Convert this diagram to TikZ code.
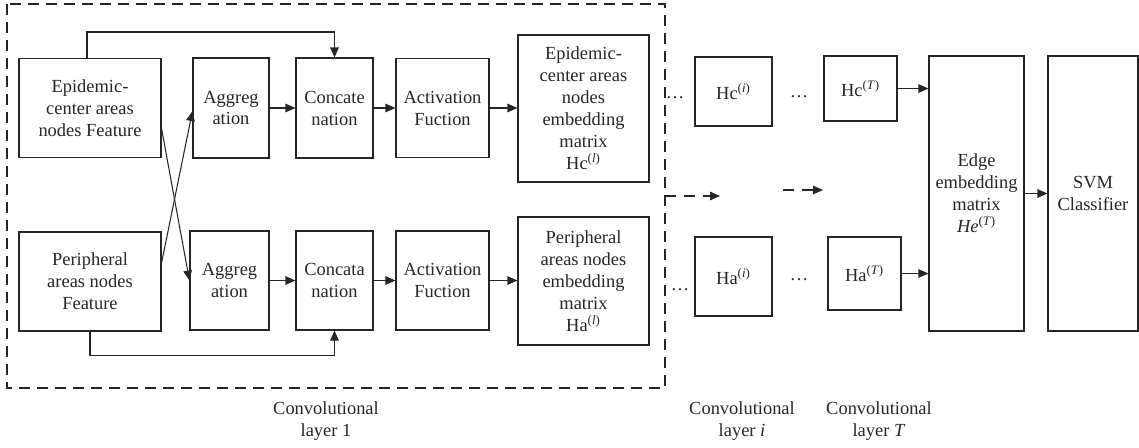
\documentclass[tikz,border=0pt]{standalone}
\usepackage{fontspec}
\setmainfont{Liberation Serif}
\usetikzlibrary{positioning,arrows.meta}
\definecolor{inkc}{RGB}{38,38,38}

\begin{document}
\begin{tikzpicture}[
  box/.style={draw=inkc, line width=0.6pt, align=center, inner sep=1pt, text=inkc, font=\fontsize{10.5}{12.5}\selectfont},
  flow/.style={draw=inkc, line width=0.6pt, -{Triangle[length=2mm,width=1.7mm]}},
  skip/.style={flow, dash pattern=on 2.2mm off 1.6mm},
  dots/.style={font=\fontsize{10.5}{12.5}\selectfont, text=inkc, anchor=base, inner sep=0pt},
  lbl/.style={align=center, font=\fontsize{10.5}{12.5}\selectfont, text=inkc},
]
\useasboundingbox (0,0) rectangle (22.78,-8.94);
\def\ty{-2.16}  % upper row centre
\def\by{-5.61}  % lower row centre

% ---- layer 1 frame ----
\draw[inkc, line width=0.6pt, dash pattern=on 2.2mm off 1.4mm] (0.14,-0.08) rectangle (13.30,-7.76);

% ---- upper row ----
\node[box, minimum width=2.84cm, minimum height=1.98cm] (ecf) at (1.80,\ty) {Epidemic-\\center areas\\nodes Feature};
\node[box, minimum width=1.52cm, minimum height=2.00cm] (agt) at (4.62,\ty) {Aggreg\\ation};
\node[box, minimum width=1.54cm, minimum height=2.00cm] (cct) at (6.69,\ty) {Concate\\nation};
\node[box, minimum width=1.86cm, minimum height=1.98cm] (act) at (8.85,\ty) {Activation\\Fuction};
\node[box, minimum width=2.62cm, minimum height=2.94cm] (eem) at (11.67,-2.17) {Epidemic-\\center areas\\nodes\\embedding\\matrix\\Hc\textsuperscript{(\textit{l})}};

% ---- lower row ----
\node[box, minimum width=2.84cm, minimum height=1.98cm] (paf) at (1.80,-5.63) {Peripheral\\areas nodes\\Feature};
\node[box, minimum width=1.58cm, minimum height=1.98cm] (agb) at (4.59,\by) {Aggreg\\ation};
\node[box, minimum width=1.54cm, minimum height=1.98cm] (ccb) at (6.69,\by) {Concata\\nation};
\node[box, minimum width=1.86cm, minimum height=1.98cm] (acb) at (8.85,\by) {Activation\\Fuction};
\node[box, minimum width=2.62cm, minimum height=2.56cm] (pem) at (11.67,-5.62) {Peripheral\\areas nodes\\embedding\\matrix\\Ha\textsuperscript{(\textit{l})}};

% ---- layer i and T ----
\node[box, minimum width=1.54cm, minimum height=1.38cm] (hci) at (14.67,-1.83) {Hc\textsuperscript{(\textit{i})}};
\node[box, minimum width=1.54cm, minimum height=1.58cm] (hai) at (14.67,-5.53) {Ha\textsuperscript{(\textit{i})}};
\node[box, minimum width=1.46cm, minimum height=1.30cm] (hct) at (17.21,-1.77) {Hc\textsuperscript{(\textit{T})}};
\node[box, minimum width=1.46cm, minimum height=1.46cm] (hat) at (17.29,-5.47) {Ha\textsuperscript{(\textit{T})}};
\node[box, minimum width=1.90cm, minimum height=5.50cm] (edg) at (19.53,-3.87) {Edge\\embedding\\matrix\\\textit{He}\textsuperscript{(\textit{T})}};
\node[box, minimum width=1.80cm, minimum height=5.50cm] (svm) at (21.86,-3.87) {SVM\\Classifier};

\node[dots] (dt1) at (13.50,-1.97) {\dots};
\node[dots] (db1) at (13.60,-5.80) {\dots};
\node[dots] (dt2) at (15.98,-1.94) {\dots};
\node[dots] (db2) at (15.98,-5.60) {\dots};

% ---- connectors ----
\draw[flow] (agt) -- (cct);
\draw[flow] (cct) -- (act);
\draw[flow] (act.east) -- (act.east -| eem.west);
\draw[flow] (agb) -- (ccb);
\draw[flow] (ccb) -- (acb);
\draw[flow] (acb.east) -- (acb.east -| pem.west);
\draw[flow] ([xshift=-0.06cm]ecf.north) -- ++(0,0.52) -| (cct.north);
\draw[flow] (paf.south) -- ++(0,-0.48) -| (ccb.south);
\draw[flow] ([yshift=-0.41cm]ecf.east) -- (agb.west);
\draw[flow] ([yshift=0.37cm]paf.east) -- ([yshift=-0.06cm]agt.west);
\draw[flow] (hct.east) -- (hct.east -| edg.west);
\draw[flow] (hat.east) -- (hat.east -| edg.west);
\draw[flow] (edg) -- (svm);

\coordinate (s1a) at (13.30,-3.92);
\coordinate (s1b) at (14.40,-3.92);
\coordinate (s2a) at (15.66,-3.80);
\coordinate (s2b) at (16.46,-3.80);
\draw[skip] (s1a) -- (s1b);
\draw[skip] (s2a) -- (s2b);

% ---- layer labels ----
\node[lbl] (l1) at (6.52,-8.42) {Convolutional\\layer 1};
\node[lbl] (li) at (14.84,-8.42) {Convolutional\\layer \textit{i}};
\node[lbl] (lt) at (17.58,-8.42) {Convolutional\\layer \textit{T}};

\end{tikzpicture}
\end{document}
